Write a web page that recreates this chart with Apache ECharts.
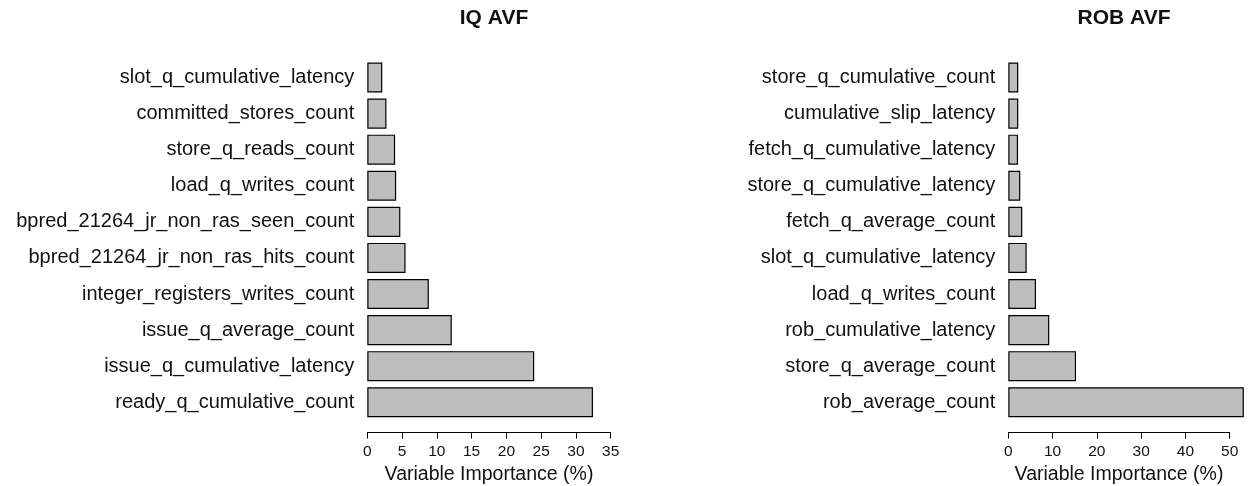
<!DOCTYPE html>
<html>
<head>
<meta charset="utf-8">
<title>Variable Importance</title>
<script src="https://cdn.jsdelivr.net/npm/echarts@6/dist/echarts.min.js"></script>
<style>
  html, body { margin: 0; padding: 0; background: #ffffff; }
  #chart { width: 1249px; height: 486px; }
</style>
</head>
<body>
<div id="chart"></div>
<script>
// Panel titles
const iqTitle = 'IQ AVF';
const robTitle = 'ROB AVF';
const axisTitle = 'Variable Importance (%)';

// IQ AVF: variables listed top to bottom
const iqCategories = [
  'slot_q_cumulative_latency',
  'committed_stores_count',
  'store_q_reads_count',
  'load_q_writes_count',
  'bpred_21264_jr_non_ras_seen_count',
  'bpred_21264_jr_non_ras_hits_count',
  'integer_registers_writes_count',
  'issue_q_average_count',
  'issue_q_cumulative_latency',
  'ready_q_cumulative_count'
];
const iqValues = [2.15, 2.75, 4.0, 4.15, 4.75, 5.5, 8.85, 12.15, 24.0, 32.45];

// ROB AVF: variables listed top to bottom
const robCategories = [
  'store_q_cumulative_count',
  'cumulative_slip_latency',
  'fetch_q_cumulative_latency',
  'store_q_cumulative_latency',
  'fetch_q_average_count',
  'slot_q_cumulative_latency',
  'load_q_writes_count',
  'rob_cumulative_latency',
  'store_q_average_count',
  'rob_average_count'
];
const robValues = [2.25, 2.25, 2.2, 2.7, 3.15, 4.15, 6.25, 9.25, 15.3, 53.2];

// Axis ranges and tick steps
const iqAxisMax = 35, iqTickStep = 5;
const robAxisMax = 50, robTickStep = 10;
const robBarMax = 55;

const FONT = '"Liberation Sans", Arial, Helvetica, sans-serif';
const TEXT = '#111111';

// Layout (pixels)
const plotTop = 59.5, plotHeight = 360.8;
const iqLeft = 367.3, iqWidth = 243.4;          // 0..35
const robLeft = 1008.3, robPxPerUnit = 4.428;   // 0..50 axis is 221.4 px
const axisOffset = 12.3;

const chart = echarts.init(document.getElementById('chart'), null, { renderer: 'canvas' });

const barStyle = { color: '#bebebe', borderColor: '#000000', borderWidth: 1.2 };

function valueAxis(gridIndex, max, step, showIt) {
  return {
    type: 'value', gridIndex: gridIndex, min: 0, max: max, interval: step,
    show: showIt,
    offset: axisOffset,
    splitLine: { show: false },
    axisLine: { show: true, lineStyle: { color: '#000', width: 1 } },
    axisTick: { show: true, length: 6, lineStyle: { color: '#000', width: 1 } },
    axisLabel: { fontFamily: FONT, fontSize: 15.5, color: TEXT, margin: 11 },
    name: axisTitle, nameLocation: 'middle', nameGap: 32, nameMoveOverlap: false,
    nameTextStyle: { fontFamily: FONT, fontSize: 19.5, color: TEXT }
  };
}

function categoryAxis(gridIndex, cats, showIt) {
  return {
    type: 'category', gridIndex: gridIndex, data: cats, inverse: true,
    show: showIt,
    axisLine: { show: false }, axisTick: { show: false },
    axisLabel: { fontFamily: FONT, fontSize: 20, color: TEXT, margin: 13 }
  };
}

function panelGrid(left, width) {
  return {
    left: left, top: plotTop, width: width, height: plotHeight,
    containLabel: false, outerBoundsMode: 'none'
  };
}

const option = {
  backgroundColor: '#ffffff',
  animation: false,
  title: [
    { text: iqTitle, left: iqLeft + iqWidth / 2, top: 3, textAlign: 'center',
      textStyle: { fontFamily: FONT, fontSize: 21, fontWeight: 'bold', color: TEXT } },
    { text: robTitle, left: robLeft + robAxisMax * robPxPerUnit / 2, top: 3, textAlign: 'center',
      textStyle: { fontFamily: FONT, fontSize: 21, fontWeight: 'bold', color: TEXT } }
  ],
  grid: [
    panelGrid(iqLeft, iqWidth),
    panelGrid(robLeft, robBarMax * robPxPerUnit),
    panelGrid(robLeft, robAxisMax * robPxPerUnit)
  ],
  xAxis: [
    valueAxis(0, iqAxisMax, iqTickStep, true),
    valueAxis(1, robBarMax, robTickStep, false),
    valueAxis(2, robAxisMax, robTickStep, true)
  ],
  yAxis: [
    categoryAxis(0, iqCategories, true),
    categoryAxis(1, robCategories, true),
    categoryAxis(2, robCategories, false)
  ],
  series: [
    { type: 'bar', xAxisIndex: 0, yAxisIndex: 0, data: iqValues,
      barCategoryGap: '16.7%', itemStyle: barStyle, silent: true },
    { type: 'bar', xAxisIndex: 1, yAxisIndex: 1, data: robValues,
      barCategoryGap: '16.7%', itemStyle: barStyle, silent: true }
  ]
};

chart.setOption(option);
</script>
</body>
</html>
